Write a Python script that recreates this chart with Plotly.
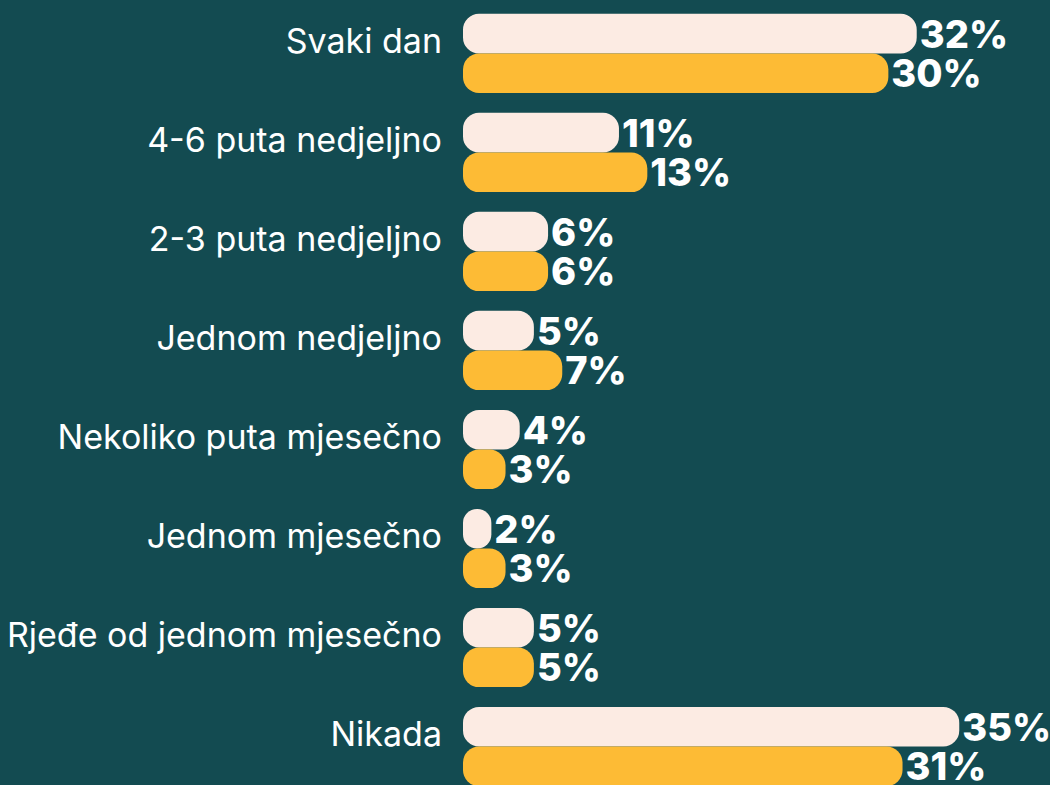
import plotly.graph_objects as go

categories = [
    "Svaki dan",
    "4-6 puta nedjeljno",
    "2-3 puta nedjeljno",
    "Jednom nedjeljno",
    "Nekoliko puta mjesečno",
    "Jednom mjesečno",
    "Rjeđe od jednom mjesečno",
    "Nikada",
]
series_a = [32, 11, 6, 5, 4, 2, 5, 35]
series_b = [30, 13, 6, 7, 3, 3, 5, 31]

BG = "#134b51"
CREAM = "#fcebe3"
YELLOW = "#fdbb35"
BAR_W = 0.4


def pill_bar(values, color, offset):
    # explicit base -> floating bar, so both ends get rounded corners
    return go.Bar(
        y=categories,
        x=values,
        base=[0] * len(values),
        orientation="h",
        width=BAR_W,
        offset=offset,
        marker=dict(color=color, line=dict(width=0)),
        text=[f"{v}%" for v in values],
        textposition="outside",
        constraintext="none",
        textfont=dict(family="Inter", size=38, color="white", weight=800),
        hoverinfo="skip",
        showlegend=False,
    )


fig = go.Figure()
fig.add_trace(pill_bar(series_a, CREAM, -BAR_W))
fig.add_trace(pill_bar(series_b, YELLOW, 0))

fig.update_layout(
    width=1050,
    height=785,
    margin=dict(l=463, r=0, t=0, b=0),
    paper_bgcolor=BG,
    plot_bgcolor=BG,
    barmode="overlay",
    barcornerradius=16,
    xaxis=dict(visible=False, range=[0, 41.4], fixedrange=True),
    yaxis=dict(
        type="category",
        range=[7.389, -0.540],
        showgrid=False,
        zeroline=False,
        showline=False,
        ticks="",
        ticklabelstandoff=20,
        ticklabelshift=12,
        tickfont=dict(family="Inter", size=34, color="white"),
        fixedrange=True,
    ),
)

fig.write_html("out.html", config={"displayModeBar": False})
